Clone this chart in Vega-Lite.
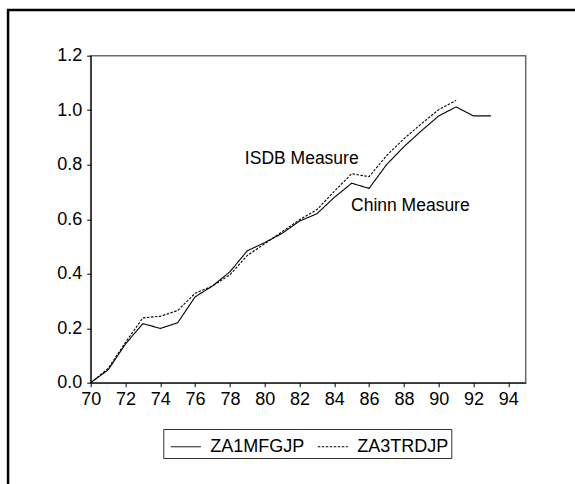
{
  "$schema": "https://vega.github.io/schema/vega-lite/v6.json",
  "autosize": {"type": "none"},
  "width": 435,
  "height": 327,
  "padding": {"left": 90.7, "top": 55.7, "right": 49.3, "bottom": 101.3},
  "background": "white",
  "config": {
    "font": "Liberation Sans",
    "view": {"stroke": "#6a6a6a", "strokeWidth": 1.5},
    "axis": {"labelFont": "Liberation Sans", "labelFontSize": 18, "labelColor": "black", "domainColor": "black", "tickColor": "black", "grid": false, "title": null, "labelOverlap": false, "labelFlush": false, "tickSize": 4},
    "axisX": {"values": [70,71,72,73,74,75,76,77,78,79,80,81,82,83,84,85,86,87,88,89,90,91,92,93,94,95], "labelExpr": "datum.value % 2 == 0 ? datum.value : ''", "labelPadding": 4},
    "axisY": {"labelPadding": 5}
  },
  "datasets": {
    "series": [
      {"year": 70, "value": 0.0, "series": "ZA1MFGJP"},
      {"year": 71, "value": 0.047, "series": "ZA1MFGJP"},
      {"year": 72, "value": 0.142, "series": "ZA1MFGJP"},
      {"year": 73, "value": 0.217, "series": "ZA1MFGJP"},
      {"year": 74, "value": 0.199, "series": "ZA1MFGJP"},
      {"year": 75, "value": 0.220, "series": "ZA1MFGJP"},
      {"year": 76, "value": 0.315, "series": "ZA1MFGJP"},
      {"year": 77, "value": 0.355, "series": "ZA1MFGJP"},
      {"year": 78, "value": 0.407, "series": "ZA1MFGJP"},
      {"year": 79, "value": 0.484, "series": "ZA1MFGJP"},
      {"year": 80, "value": 0.514, "series": "ZA1MFGJP"},
      {"year": 81, "value": 0.548, "series": "ZA1MFGJP"},
      {"year": 82, "value": 0.593, "series": "ZA1MFGJP"},
      {"year": 83, "value": 0.620, "series": "ZA1MFGJP"},
      {"year": 84, "value": 0.680, "series": "ZA1MFGJP"},
      {"year": 85, "value": 0.732, "series": "ZA1MFGJP"},
      {"year": 86, "value": 0.713, "series": "ZA1MFGJP"},
      {"year": 87, "value": 0.800, "series": "ZA1MFGJP"},
      {"year": 88, "value": 0.866, "series": "ZA1MFGJP"},
      {"year": 89, "value": 0.924, "series": "ZA1MFGJP"},
      {"year": 90, "value": 0.979, "series": "ZA1MFGJP"},
      {"year": 91, "value": 1.012, "series": "ZA1MFGJP"},
      {"year": 92, "value": 0.979, "series": "ZA1MFGJP"},
      {"year": 93, "value": 0.979, "series": "ZA1MFGJP"},
      {"year": 70, "value": 0.0, "series": "ZA3TRDJP"},
      {"year": 71, "value": 0.052, "series": "ZA3TRDJP"},
      {"year": 72, "value": 0.148, "series": "ZA3TRDJP"},
      {"year": 73, "value": 0.238, "series": "ZA3TRDJP"},
      {"year": 74, "value": 0.244, "series": "ZA3TRDJP"},
      {"year": 75, "value": 0.265, "series": "ZA3TRDJP"},
      {"year": 76, "value": 0.328, "series": "ZA3TRDJP"},
      {"year": 77, "value": 0.355, "series": "ZA3TRDJP"},
      {"year": 78, "value": 0.396, "series": "ZA3TRDJP"},
      {"year": 79, "value": 0.467, "series": "ZA3TRDJP"},
      {"year": 80, "value": 0.510, "series": "ZA3TRDJP"},
      {"year": 81, "value": 0.554, "series": "ZA3TRDJP"},
      {"year": 82, "value": 0.598, "series": "ZA3TRDJP"},
      {"year": 83, "value": 0.635, "series": "ZA3TRDJP"},
      {"year": 84, "value": 0.702, "series": "ZA3TRDJP"},
      {"year": 85, "value": 0.767, "series": "ZA3TRDJP"},
      {"year": 86, "value": 0.756, "series": "ZA3TRDJP"},
      {"year": 87, "value": 0.833, "series": "ZA3TRDJP"},
      {"year": 88, "value": 0.895, "series": "ZA3TRDJP"},
      {"year": 89, "value": 0.950, "series": "ZA3TRDJP"},
      {"year": 90, "value": 1.002, "series": "ZA3TRDJP"},
      {"year": 91, "value": 1.036, "series": "ZA3TRDJP"}
    ],
    "notes": [
      {"year": 82.13, "value": 0.821, "label": "ISDB Measure"},
      {"year": 88.37, "value": 0.648, "label": "Chinn Measure"}
    ]
  },
  "layer": [
    {
      "data": {"values": [{}]},
      "mark": {"type": "rect", "fill": null, "stroke": "black", "strokeWidth": 2.5, "clip": false},
      "encoding": {
        "x": {"datum": 65.25, "type": "quantitative", "scale": {"domain": [70, 95], "nice": false, "zero": false}},
        "x2": {"datum": 101},
        "y": {"datum": 1.368, "type": "quantitative", "scale": {"domain": [0, 1.2], "nice": false}},
        "y2": {"datum": -0.7}
      }
    },
    {
      "data": {"name": "series"},
      "mark": {"type": "line", "color": "black", "strokeWidth": 1.1},
      "encoding": {
        "x": {
          "field": "year", "type": "quantitative",
          "scale": {"domain": [70, 95], "nice": false, "zero": false}
        },
        "y": {
          "field": "value", "type": "quantitative",
          "scale": {"domain": [0, 1.2], "nice": false},
          "axis": {"values": [0, 0.2, 0.4, 0.6, 0.8, 1.0, 1.2], "format": ".1f"}
        },
        "strokeDash": {
          "field": "series", "type": "nominal",
          "scale": {"domain": ["ZA1MFGJP", "ZA3TRDJP"], "range": [[1, 0], [2.5, 1.5]]},
          "legend": {
            "orient": "none", "legendX": 72.6, "legendY": 373.3, "direction": "horizontal",
            "title": null, "strokeColor": "#333", "padding": 2, "symbolOffset": 5,
            "symbolType": "stroke", "symbolSize": 900, "symbolStrokeWidth": 1, "symbolStrokeColor": "black",
            "labelFont": "Liberation Sans", "labelFontSize": 18, "labelColor": "black", "labelOffset": 9,
            "columnPadding": 7, "fillColor": "white"
          }
        }
      }
    },
    {
      "data": {"name": "notes"},
      "mark": {"type": "text", "font": "Liberation Sans", "fontSize": 17.5, "color": "black", "align": "center", "baseline": "middle"},
      "encoding": {
        "x": {"field": "year", "type": "quantitative", "scale": {"domain": [70, 95], "nice": false, "zero": false}},
        "y": {"field": "value", "type": "quantitative", "scale": {"domain": [0, 1.2], "nice": false}},
        "text": {"field": "label"}
      }
    }
  ]
}
